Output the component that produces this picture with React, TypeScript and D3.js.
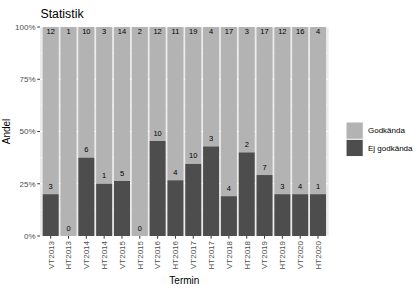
import React from 'react';
import * as d3 from 'd3';

// data
const terms = ['VT2013', 'HT2013', 'VT2014', 'HT2014', 'VT2015', 'HT2015', 'VT2016', 'HT2016',
  'VT2017', 'HT2017', 'VT2018', 'HT2018', 'VT2019', 'HT2019', 'VT2020', 'HT2020'];
const godkanda = [12, 1, 10, 3, 14, 2, 12, 11, 19, 4, 17, 3, 17, 12, 16, 4];
const ejGodkanda = [3, 0, 6, 1, 5, 0, 10, 4, 10, 3, 4, 2, 7, 3, 4, 1];
const yTicks = [0, 0.25, 0.5, 0.75, 1];
const legendLabels = ['Godkända', 'Ej godkända'];
const fills = ['#B3B3B3', '#4D4D4D'];

const W = 418;
const H = 289;
const font = '"Liberation Sans", Arial, sans-serif';

export default function App() {
  // chart setup
  const margin = { top: 27, right: 89.3, bottom: 53, left: 40 };
  const innerW = W - margin.left - margin.right;
  const innerH = H - margin.top - margin.bottom;

  // ggplot-like discrete expansion: 0.6 units each side
  const n = terms.length;
  const unit = innerW / (n + 0.2);
  const x = d3.scaleBand<string>()
    .domain(terms)
    .range([0.1 * unit, innerW - 0.1 * unit])
    .paddingInner(0.1)
    .paddingOuter(0.05);

  const y = d3.scaleLinear().domain([0, 1]).range([innerH, 0]);

  const rows = terms.map((t, i) => {
    const total = godkanda[i] + ejGodkanda[i];
    return { term: t, g: godkanda[i], e: ejGodkanda[i], fe: total ? ejGodkanda[i] / total : 0 };
  });

  const minor = [0.125, 0.375, 0.625, 0.875];

  return (
    <div style={{ position: 'absolute', left: 0, top: 0, width: W, height: H }}>
      <svg width={W} height={H} style={{ display: 'block', fontFamily: font }}>
        <rect width={W} height={H} fill="#fff" />
        <text x={margin.left + 0.5} y={18} fontSize={12.3} fill="#000">Statistik</text>
        <g transform={`translate(${margin.left},${margin.top})`}>
          <rect width={innerW} height={innerH} fill="#EBEBEB" />
          {minor.map(v => (
            <line key={'mn' + v} x1={0} x2={innerW} y1={y(v)} y2={y(v)} stroke="#fff" strokeWidth={0.5} />
          ))}
          {yTicks.map(v => (
            <line key={'mj' + v} x1={0} x2={innerW} y1={y(v)} y2={y(v)} stroke="#fff" strokeWidth={1.05} />
          ))}
          {rows.map(d => (
            <line key={'vx' + d.term} x1={x(d.term)! + x.bandwidth() / 2} x2={x(d.term)! + x.bandwidth() / 2}
              y1={0} y2={innerH} stroke="#fff" strokeWidth={1.05} />
          ))}
          {rows.map(d => (
            <g key={d.term}>
              <rect x={x(d.term)} y={y(1)} width={x.bandwidth()} height={y(d.fe) - y(1)} fill={fills[0]} />
              <rect x={x(d.term)} y={y(d.fe)} width={x.bandwidth()} height={innerH - y(d.fe)} fill={fills[1]} />
              <text x={x(d.term)! + x.bandwidth() / 2} y={y(1) + 6.5} fontSize={7.5} textAnchor="middle" fill="#000">{d.g}</text>
              <text x={x(d.term)! + x.bandwidth() / 2} y={y(d.fe) - 5.5} fontSize={7.5} textAnchor="middle" fill="#000">{d.e}</text>
            </g>
          ))}
          {/* y axis */}
          {yTicks.map(v => (
            <g key={'yt' + v} transform={`translate(0,${y(v)})`}>
              <line x1={-2.7} x2={0} stroke="#333" strokeWidth={1} />
              <text x={-4.5} dy="0.35em" fontSize={8} textAnchor="end" fill="#4D4D4D">{d3.format('.0%')(v)}</text>
            </g>
          ))}
          {/* x axis */}
          {terms.map(t => (
            <g key={'xt' + t} transform={`translate(${x(t)! + x.bandwidth() / 2},${innerH})`}>
              <line y1={0} y2={2.7} stroke="#333" strokeWidth={1} />
              <text transform="translate(0,5) rotate(-90)" dy="0.35em" fontSize={8} textAnchor="end" fill="#4D4D4D">{t}</text>
            </g>
          ))}
        </g>
        <text x={margin.left + innerW / 2} y={284} fontSize={10} textAnchor="middle" fill="#000">Termin</text>
        <text transform={`translate(9.5,${margin.top + innerH / 2}) rotate(-90)`} fontSize={10} textAnchor="middle" fill="#000">Andel</text>
        {/* legend */}
        {legendLabels.map((l, i) => (
          <g key={l} transform={`translate(346,${122 + i * 17.3})`}>
            <rect width={17.3} height={17.3} fill="#F2F2F2" />
            <rect x={0.6} y={0.6} width={16.1} height={16.1} fill={fills[i]} />
            <text x={22} y={8.65} dy="0.35em" fontSize={8} fill="#000">{l}</text>
          </g>
        ))}
      </svg>
    </div>
  );
}
